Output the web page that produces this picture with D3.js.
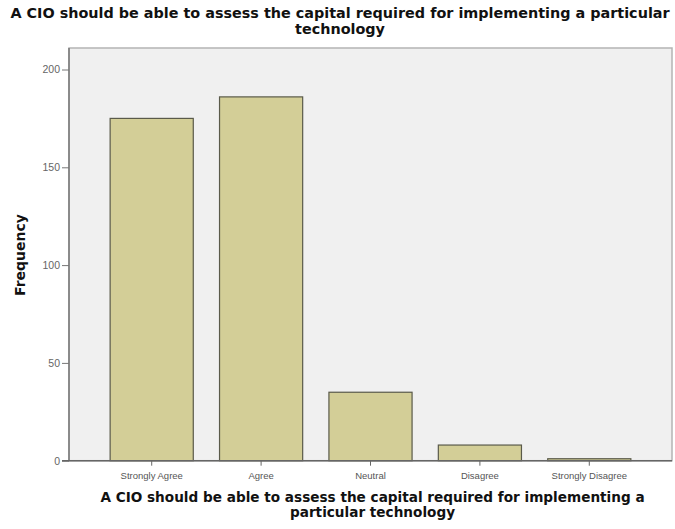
<!DOCTYPE html>
<html><head><meta charset="utf-8">
<script src="https://cdn.jsdelivr.net/npm/d3@7"></script>
<style>body{margin:0;background:#fff;}svg{display:block;}</style>
</head><body>
<svg id="chart" width="675" height="529"></svg>
<script>
const categories = ["Strongly Agree","Agree","Neutral","Disagree","Strongly Disagree"];
const frequencies = [175, 186, 35, 8, 1];
const yTicks = [0, 50, 100, 150, 200];
const titleLines = ["A CIO should be able to assess the capital required for implementing a particular","technology"];
const xTitleLines = ["A CIO should be able to assess the capital required for implementing a","particular technology"];
const yTitle = "Frequency";

const svg = d3.select("#chart");
const pL = 69, pR = 672, pT = 48, pB = 460.7;
const tf = "'DejaVu Sans', Verdana, sans-serif";
const lf = "Arial, 'Liberation Sans', sans-serif";

const x = d3.scaleBand().domain(categories).range([pL, pR]).paddingInner(0.24).paddingOuter(0.376);
const y = d3.scaleLinear().domain([0, 200]).range([pB, 69.5]);

// plot background
svg.append("rect").attr("x", pL).attr("y", pT).attr("width", pR-pL).attr("height", pB-pT)
  .attr("fill", "#f0f0f0").attr("stroke", "#b4b4b4").attr("stroke-width", 1.5);

// bars
svg.selectAll("rect.bar").data(frequencies).join("rect").attr("class","bar")
  .attr("x", (d,i) => x(categories[i]))
  .attr("width", x.bandwidth())
  .attr("y", d => y(d))
  .attr("height", d => y(0) - y(d))
  .attr("fill", "#d3ce97").attr("stroke", "#5a5a4a").attr("stroke-width", 1.2);

// y axis
const yAxis = d3.axisLeft(y).tickValues(yTicks).tickSize(7).tickPadding(2);
const gy = svg.append("g").attr("transform", `translate(${pL},0)`).call(yAxis);
gy.select(".domain").attr("stroke", "#777").attr("stroke-width", 1.5).attr("d", `M0,${pT}V${pB}`);
gy.selectAll(".tick line").attr("stroke", "#777");
gy.selectAll(".tick text").attr("fill", "#666").style("font-family", lf).style("font-size", "10.5px");

// x axis
const xAxis = d3.axisBottom(x).tickSize(5).tickPadding(7).tickSizeOuter(0);
const gx = svg.append("g").attr("transform", `translate(0,${pB})`).call(xAxis);
gx.select(".domain").attr("stroke", "#666").attr("stroke-width", 1.5).attr("d", `M${pL-7},0H${pR}`);
gx.selectAll(".tick line").attr("stroke", "#666");
gx.selectAll(".tick text").attr("fill", "#555").style("font-family", lf).style("font-size", "9.5px");

function fitSize(str, target, weight) {
  const t = svg.append("text").style("font-family", tf).style("font-weight", weight).style("font-size", "20px").text(str);
  const w = t.node().getComputedTextLength();
  t.remove();
  return 20 * target / w;
}

// titles
const titleSize = fitSize(titleLines[0], 660, "bold");
svg.append("text").attr("text-anchor","middle").style("font-family", tf).style("font-weight","bold").style("font-size", titleSize + "px").attr("fill","#111")
  .selectAll("tspan").data(titleLines).join("tspan").attr("x", 340).attr("y", (d,i)=>18+i*16).text(d=>d);

const xTitleSize = fitSize(xTitleLines[0], 545, "bold");
svg.append("text").attr("text-anchor","middle").style("font-family", tf).style("font-weight","bold").style("font-size", xTitleSize + "px").attr("fill","#111")
  .selectAll("tspan").data(xTitleLines).join("tspan").attr("x", 372.5).attr("y", (d,i)=>502+i*15).text(d=>d);

const yTitleSize = fitSize(yTitle, 82, "bold");
svg.append("text").attr("transform", "translate(25,255) rotate(-90)").attr("text-anchor","middle")
  .style("font-family", tf).style("font-weight","bold").style("font-size", yTitleSize + "px").attr("fill","#111").text(yTitle);
</script>
</body></html>
